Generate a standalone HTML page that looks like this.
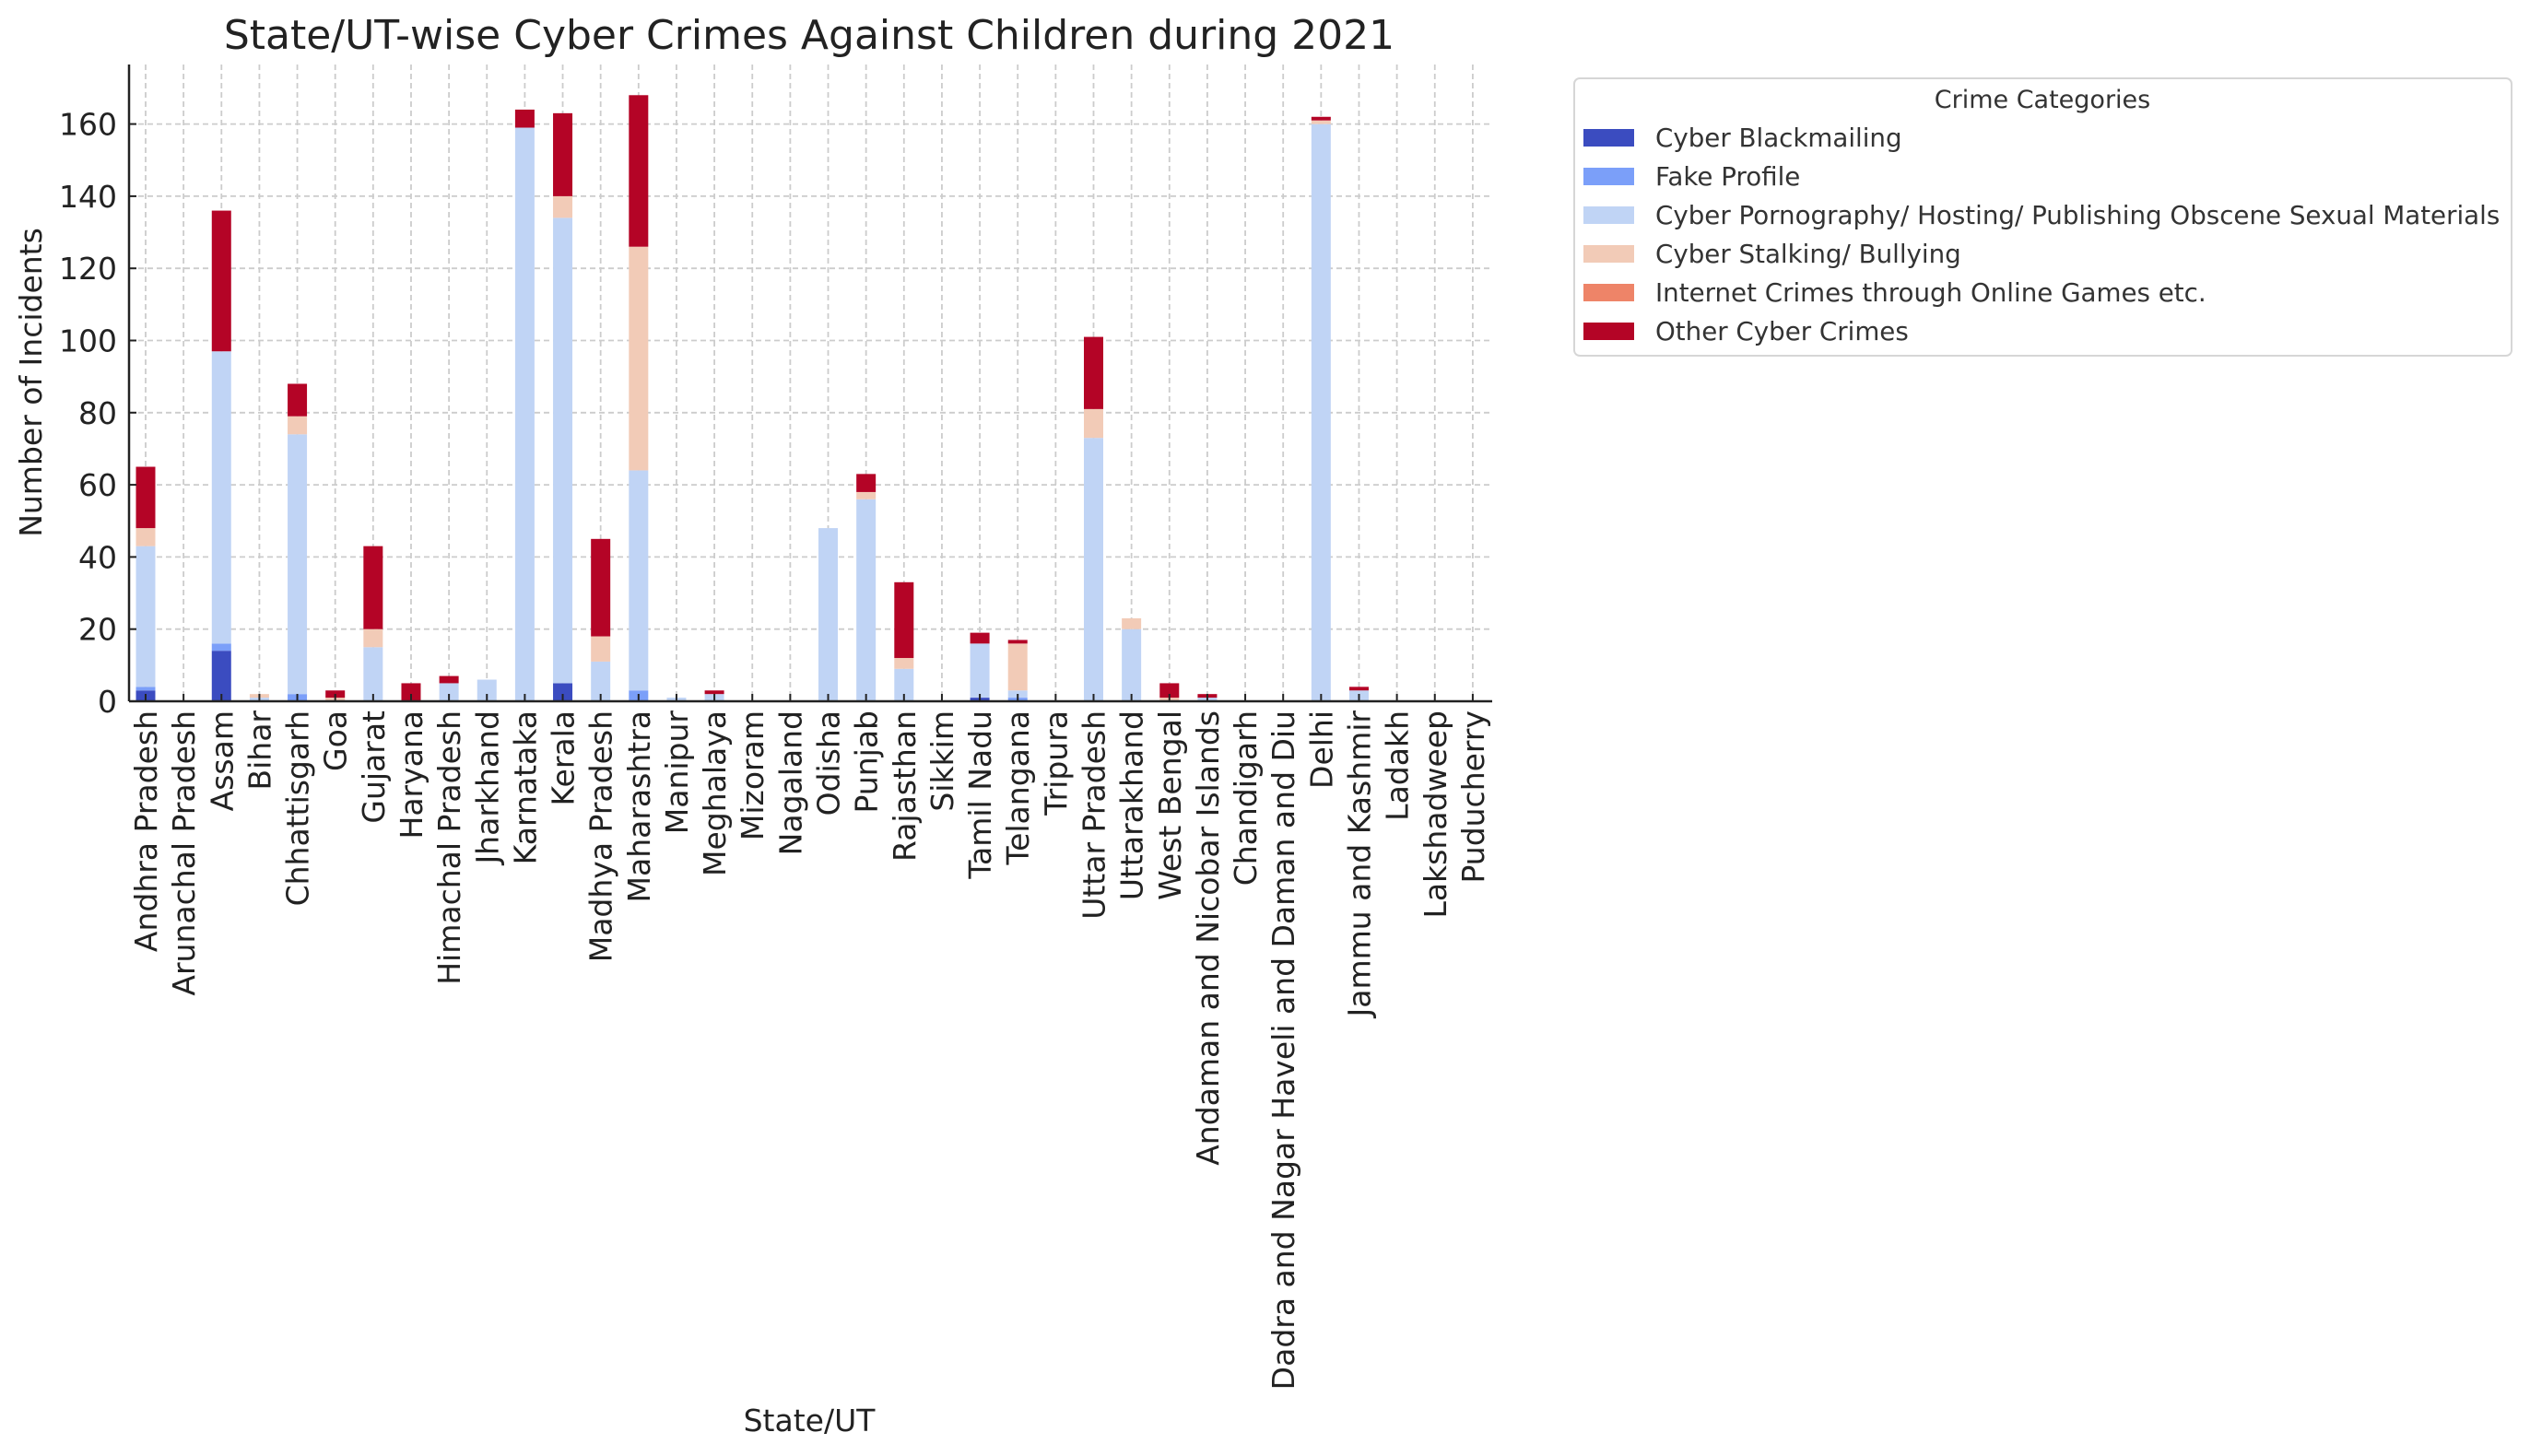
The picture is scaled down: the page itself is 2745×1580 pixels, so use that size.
<!DOCTYPE html>
<html><head><meta charset="utf-8"><style>
html,body{margin:0;padding:0;background:#fff;}
svg{display:block;font-family:"DejaVu Sans","Liberation Sans",sans-serif;}
</style></head><body>
<svg id="chart" width="2745" height="1580" viewBox="0 0 2745 1580" xmlns="http://www.w3.org/2000/svg">
<text x="878" y="53" font-size="44" text-anchor="middle" fill="#222">State/UT-wise Cyber Crimes Against Children during 2021</text>
<g id="grid"></g>
<g id="bars"></g>
<g id="axes"></g>
<text transform="translate(45,415) rotate(-90)" font-size="33" text-anchor="middle" fill="#222">Number of Incidents</text>
<text x="878" y="1553" font-size="33" text-anchor="middle" fill="#222">State/UT</text>
<g id="legend">
<rect x="1708" y="85" width="1017" height="301" rx="6" fill="#fff" stroke="#d6d6d6" stroke-width="2"/>
<text x="2216" y="117" font-size="27" text-anchor="middle" fill="#333">Crime Categories</text>
</g>
</svg>
<script>
const categories = ["Andhra Pradesh","Arunachal Pradesh","Assam","Bihar","Chhattisgarh","Goa","Gujarat","Haryana","Himachal Pradesh","Jharkhand","Karnataka","Kerala","Madhya Pradesh","Maharashtra","Manipur","Meghalaya","Mizoram","Nagaland","Odisha","Punjab","Rajasthan","Sikkim","Tamil Nadu","Telangana","Tripura","Uttar Pradesh","Uttarakhand","West Bengal","Andaman and Nicobar Islands","Chandigarh","Dadra and Nagar Haveli and Daman and Diu","Delhi","Jammu and Kashmir","Ladakh","Lakshadweep","Puducherry"];
const seriesNames = ["Cyber Blackmailing","Fake Profile","Cyber Pornography/ Hosting/ Publishing Obscene Sexual Materials","Cyber Stalking/ Bullying","Internet Crimes through Online Games etc.","Other Cyber Crimes"];
const seriesColors = ["#3b4cc0","#7b9ff9","#c0d4f5","#f2cbb7","#ee8468","#b40426"];
const blackmailing = [3,0,14,0,0,0,0,0,0,0,0,5,0,0,0,0,0,0,0,0,0,0,1,0,0,0,0,0,0,0,0,0,0,0,0,0];
const fakeProfile  = [1,0,2,0,2,0,0,0,0,0,0,0,0,3,0,0,0,0,0,0,0,0,0,1,0,0,0,0,0,0,0,0,0,0,0,0];
const pornography  = [39,0,81,1,72,0,15,0,5,6,159,129,11,61,1,2,0,0,48,56,9,0,15,2,0,73,20,0,1,0,0,160,3,0,0,0];
const stalking     = [5,0,0,1,5,1,5,0,0,0,0,6,7,62,0,0,0,0,0,2,3,0,0,13,0,8,3,1,0,0,0,1,0,0,0,0];
const onlineGames  = [0,0,0,0,0,0,0,0,0,0,0,0,0,0,0,0,0,0,0,0,0,0,0,0,0,0,0,0,0,0,0,0,0,0,0,0];
const otherCrimes  = [17,0,39,0,9,2,23,5,2,0,5,23,27,42,0,1,0,0,0,5,21,0,3,1,0,20,0,4,1,0,0,1,1,0,0,0];
const yTicks = [0,20,40,60,80,100,120,140,160];

const series = [blackmailing,fakeProfile,pornography,stalking,onlineGames,otherCrimes];
const NS="http://www.w3.org/2000/svg";
const X0=140,X1=1619,Y0=761,YT=70,YMAX=176.5;
const step=41.14, first=158, barW=21;
function xs(i){return first+step*i;}
function ys(v){return Y0-(Y0-YT)*v/YMAX;}
function mk(tag,attrs,parent){const e=document.createElementNS(NS,tag);for(const k in attrs)e.setAttribute(k,attrs[k]);parent.appendChild(e);return e;}
const grid=document.getElementById('grid'),bars=document.getElementById('bars'),axes=document.getElementById('axes'),legend=document.getElementById('legend');
yTicks.forEach(t=>{
  const l=mk('line',{x1:X0,x2:X1,y1:ys(t),y2:ys(t),stroke:'#cccccc','stroke-width':1.8,'stroke-dasharray':'6,4'},grid);
  
  
  const tk=mk('line',{x1:X0,x2:X0+8,y1:ys(t),y2:ys(t),stroke:'#222','stroke-width':2},axes);
  
  
  const tx=mk('text',{x:127,y:ys(t)+12,'font-size':33,'text-anchor':'end',fill:'#222'},axes);
  tx.textContent=t;
  
  
});
categories.forEach((c,i)=>{
  const x=xs(i);
  const g=mk('line',{x1:x,x2:x,y1:YT,y2:Y0,stroke:'#cccccc','stroke-width':1.8,'stroke-dasharray':'6,4'},grid);
  
  
  let cum=0;
  series.forEach((s,k)=>{
    const v=s[i];
    if(v>0){
      const r=mk('rect',{x:x-barW/2,y:ys(cum+v),width:barW,height:ys(cum)-ys(cum+v),fill:seriesColors[k]},bars);
      
      
    }
    cum+=v;
  });
  const tk=mk('line',{x1:x,x2:x,y1:Y0,y2:Y0-8,stroke:'#222','stroke-width':2},axes);
  
  
  const tx=mk('text',{transform:`translate(${x+12},771) rotate(-90)`,'font-size':33,'text-anchor':'end',fill:'#222'},axes);
  tx.textContent=c;
  
  
});
const la=mk('line',{x1:X0,x2:X0,y1:YT,y2:Y0,stroke:'#222','stroke-width':2.5},axes);


const lb=mk('line',{x1:X0,x2:X1,y1:Y0,y2:Y0,stroke:'#222','stroke-width':2.5},axes);


seriesNames.forEach((n,k)=>{
  const y=150+k*42;
  const r=mk('rect',{x:1718,y:y-10,width:55,height:19,fill:seriesColors[k]},legend);
  
  
  const t=mk('text',{x:1796,y:y+9,'font-size':27.7,fill:'#333'},legend);
  t.textContent=n;
  
  
});
</script>
</body></html>
